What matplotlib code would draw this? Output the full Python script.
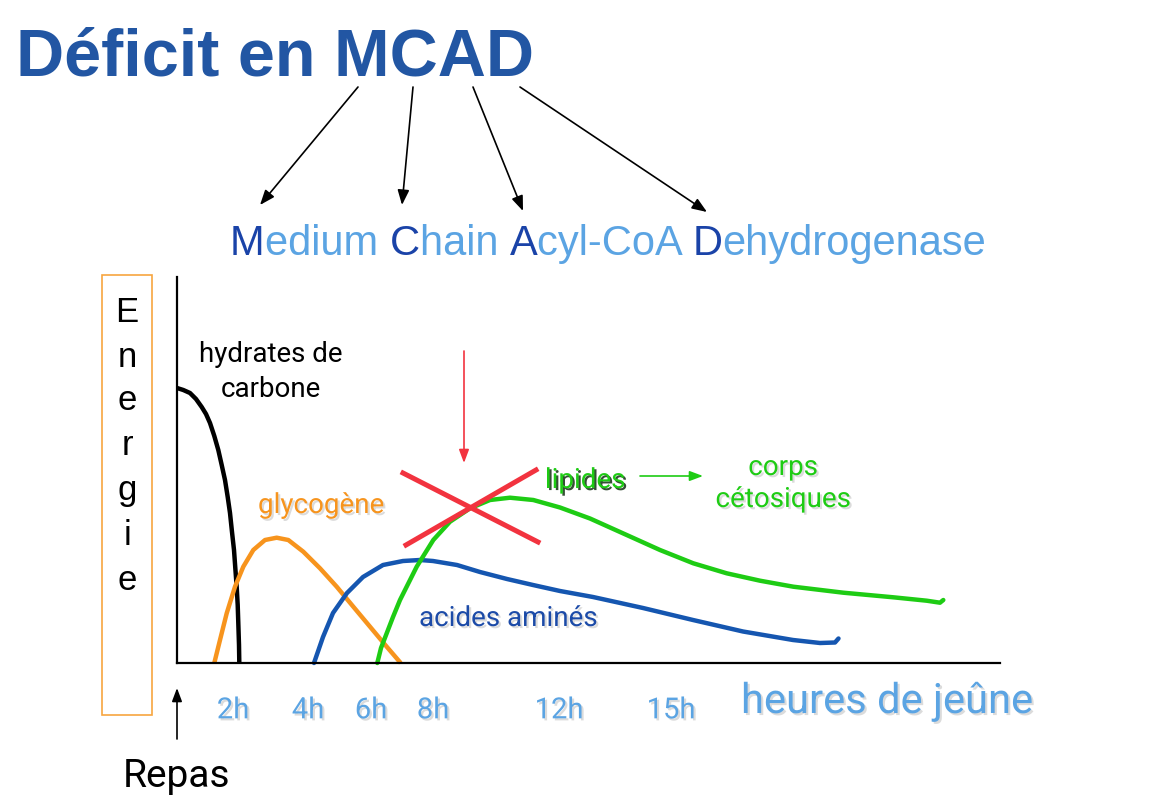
import matplotlib
matplotlib.use("Agg")
import matplotlib.pyplot as plt
import matplotlib.patheffects as pe
from matplotlib.patches import Rectangle

# curves, in chart units (x: fasting time axis, y: energy)
carb_x = [0, 6.3, 13, 19, 24.7, 29, 33, 37.3, 41.3, 44.7, 48, 50.7, 53, 55, 57, 58.3, 59.7, 60.7, 61.3, 62, 62.3]
carb_y = [275, 273, 270, 264, 256, 249, 240, 227, 213, 198, 183, 166, 150, 131, 113, 95, 76, 58, 40, 18, 0]

glyc_x = [37.3, 43, 49.7, 58, 66.3, 76.3, 88, 99.7, 111.3, 126.3, 143, 159.7, 176.3, 193, 209.7, 223.7]
glyc_y = [0, 23, 49.7, 76.3, 96.3, 113, 123, 125.3, 123, 111.3, 94.7, 76.3, 56.3, 36.3, 16.3, 0]

amino_x = [137, 146, 156, 170, 186, 206, 226, 243, 256, 280, 303, 330, 356, 383, 416,
           466, 516, 566, 616, 643, 658, 661.5]
amino_y = [0, 26, 50, 70, 86, 98, 102, 103, 102, 98, 91, 84, 78, 72, 66,
           55, 43, 31.5, 23, 20, 20.5, 24.5]

lip_x = [200.3, 204, 209.7, 216, 223, 239.7, 256.3, 273, 293, 313, 333, 356.3, 383, 413,
         449.7, 483, 516.3, 549.7, 583, 616.3, 666.3, 716.3, 749.7, 763, 766.3]
lip_y = [0, 15, 29.7, 46, 63, 96.3, 123, 141.3, 154.7, 163, 165.3, 163, 155.5, 144.5,
         128, 113, 99.7, 89.7, 82.3, 76.3, 70.3, 65.7, 62.3, 60.3, 63]

# red cross over the lipid curve
cross_a_x = [226, 361]
cross_a_y = [190, 121]
cross_b_x = [229, 359]
cross_b_y = [118, 193]

tick_pos = [56, 131, 194, 256, 382, 494]
tick_labels = ["2h", "4h", "6h", "8h", "12h", "15h"]

energie = list("Energie")
sub_pieces = ["M", "edium ", "C", "hain ", "A", "cyl-CoA ", "D", "ehydrogenase"]
sub_dark = [True, False, True, False, True, False, True, False]

dark_blue = "#1A43A8"
light_blue = "#5BA4E3"
title_blue = "#2256A3"
orange = "#F7941D"
green = "#1ECC14"
blue = "#1556B0"
red = "#F2333F"

fig = plt.figure(figsize=(11.7, 8.07), dpi=100)
ov = fig.add_axes([0, 0, 1, 1])
ov.set_xlim(0, 1170)
ov.set_ylim(807, 0)
ov.axis("off")

W, H = 1170, 807
x0, y0, x1, y1 = 177, 663, 1000, 277
ax = fig.add_axes([x0 / W, 1 - y0 / H, (x1 - x0) / W, (y0 - y1) / H])
ax.patch.set_visible(False)
ax.set_xlim(0, x1 - x0)
ax.set_ylim(0, y0 - y1)
for s in ["top", "right"]:
    ax.spines[s].set_visible(False)
for s in ["left", "bottom"]:
    ax.spines[s].set_linewidth(1.6)
ax.set_yticks([])
ax.set_xticks(tick_pos, tick_labels)
ax.tick_params(axis="x", length=0, pad=24, labelsize=21, labelcolor=light_blue)
shadow = [pe.withSimplePatchShadow(offset=(1.5, -1.5), shadow_rgbFace="#888888", alpha=0.3)]
for lab in ax.get_xticklabels():
    lab.set_family("Roboto")
    lab.set_path_effects(shadow)

ax.plot(carb_x, carb_y, color="black", lw=3.2, clip_on=False, solid_capstyle="butt")
ax.plot(glyc_x, glyc_y, color=orange, lw=3.2, clip_on=False, solid_capstyle="butt")
ax.plot(amino_x, amino_y, color=blue, lw=3.2, clip_on=False, solid_capstyle="round")
ax.plot(lip_x, lip_y, color=green, lw=3.2, clip_on=False, solid_capstyle="round")
ax.plot(cross_a_x, cross_a_y, color=red, lw=3.6, clip_on=False)
ax.plot(cross_b_x, cross_b_y, color=red, lw=3.6, clip_on=False)

# title
ov.text(16, 76, "Déficit en MCAD", family="Liberation Sans", weight="bold",
        fontsize=48, color=title_blue, va="baseline", ha="left")

# subtitle with coloured initials
renderer = fig.canvas.get_renderer()


def text_w(s, **kw):
    t = ov.text(0, 0, s, **kw)
    w = t.get_window_extent(renderer).width
    t.remove()
    return w


sub_kw = dict(family="Liberation Sans", fontsize=30)
bar_w = text_w("|", **sub_kw)
x = 230
for piece, dark in zip(sub_pieces, sub_dark):
    ov.text(x, 255, piece, color=dark_blue if dark else light_blue,
            va="baseline", ha="left", **sub_kw)
    x += text_w(piece + "|", **sub_kw) - bar_w

# arrows from title to initials
arrows = [((358, 87), (260, 205)), ((413, 87), (402, 205)),
          ((473, 87), (523, 211)), ((520, 87), (707, 212))]
for start, end in arrows:
    ov.annotate("", xy=end, xytext=start,
                arrowprops=dict(arrowstyle="-|>,head_length=0.9,head_width=0.35",
                                color="black", lw=1.2, shrinkA=0, shrinkB=0))

# Energie box
ov.add_patch(Rectangle((102, 275), 50, 440, fill=False, edgecolor="#F7A540", lw=1.2))
for ch, yb in zip(energie, [322, 367, 410, 455, 500, 545, 590]):
    ov.text(127, yb, ch, family="Liberation Sans", fontsize=25, ha="center", va="baseline")

lab_kw = dict(family="Roboto", fontsize=20, ha="center", va="baseline")
ov.text(271, 362, "hydrates de", color="black", **lab_kw)
ov.text(271, 397, "carbone", color="black", **lab_kw)
ov.text(321, 513, "glycogène", color=orange, path_effects=shadow, **lab_kw)
ov.text(508, 626, "acides aminés", color="#1C4BA8", path_effects=shadow, **lab_kw)
ov.text(585, 488, "lipides", color=green,
        path_effects=[pe.withSimplePatchShadow(offset=(1.5, -1.5), shadow_rgbFace="#123012", alpha=0.85)],
        **lab_kw)
ov.text(783, 475, "corps", color=green, path_effects=shadow, **lab_kw)
ov.text(783, 507, "cétosiques", color=green, path_effects=shadow, **lab_kw)

ov.annotate("", xy=(703, 476), xytext=(640, 476),
            arrowprops=dict(arrowstyle="-|>,head_length=0.8,head_width=0.3",
                            color=green, lw=1.2, shrinkA=0, shrinkB=0))
ov.annotate("", xy=(464, 463), xytext=(464, 351),
            arrowprops=dict(arrowstyle="-|>,head_length=0.8,head_width=0.3",
                            color=red, lw=1.2, shrinkA=0, shrinkB=0))

ov.text(741, 713, "heures de jeûne", family="Roboto", fontsize=30, color=light_blue,
        ha="left", va="baseline", path_effects=shadow)

# Repas
ov.annotate("", xy=(177, 688), xytext=(177, 739),
            arrowprops=dict(arrowstyle="-|>,head_length=0.8,head_width=0.3",
                            color="black", lw=1.2, shrinkA=0, shrinkB=0))
ov.text(177, 787, "Repas", family="Roboto", fontsize=28, color="black",
        ha="center", va="baseline")

fig.savefig("out.png", dpi=100)
